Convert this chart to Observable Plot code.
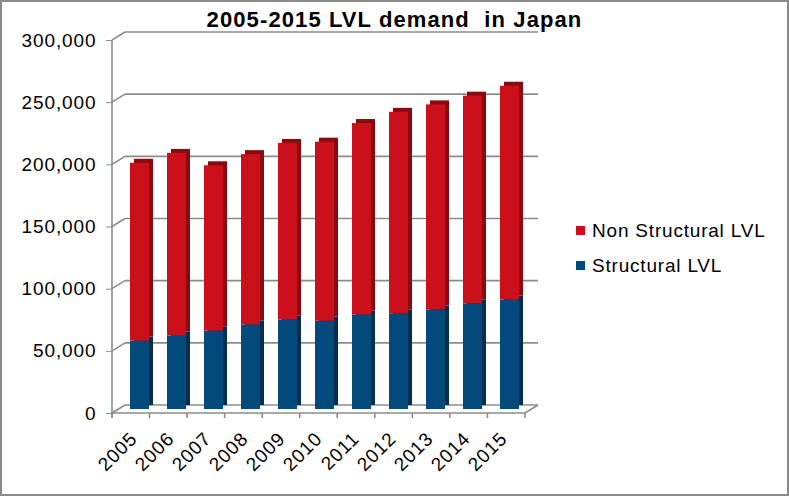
<!DOCTYPE html>
<html>
<head>
<meta charset="utf-8">
<script src="https://cdn.jsdelivr.net/npm/d3@7"></script>
<script src="https://cdn.jsdelivr.net/npm/@observablehq/plot@0.6"></script>
<style>
  html, body { margin: 0; padding: 0; background: #fff; }
  #frame { position: relative; width: 789px; height: 496px; box-sizing: border-box; border: 2px solid #8a8a8a; background: #fff; overflow: hidden; font-family: "Liberation Sans", Arial, sans-serif; }
  #title { position: absolute; left: 0; top: 6px; width: 785px; text-align: center; font-size: 22px; font-weight: bold; letter-spacing: 1.1px; color: #000; white-space: pre; z-index: 2; line-height: 24px; }
  #chart { position: absolute; left: 0; top: 0; }
  #chart svg text { letter-spacing: 0.9px; }
  #legend { position: absolute; left: 574px; top: 211px; font-size: 19px; letter-spacing: 0.8px; color: #000; z-index: 2; }
  .item { display: flex; align-items: center; height: 35px; white-space: nowrap; }
  .sw { width: 9px; height: 9px; margin-right: 7px; }
</style>
</head>
<body>
<div id="frame">
  <div id="title">2005-2015 LVL demand  in Japan</div>
  <div id="chart"></div>
  <div id="legend"></div>
</div>
<script>
// ---- data ----
const years = ["2005","2006","2007","2008","2009","2010","2011","2012","2013","2014","2015"];
const structural    = [55000, 59000, 63000, 68000, 72000, 71000, 76000, 77000, 80000, 85000, 88000];
const nonStructural = [143000, 147000, 133000, 137000, 142000, 144000, 154000, 162000, 165000, 167000, 172000];
const yTicks = [0, 50000, 100000, 150000, 200000, 250000, 300000];
const seriesNames = ["Non Structural LVL", "Structural LVL"];
const seriesColors = ["#cc101b", "#02497c"];
const seriesDark = ["#8a0a10", "#032e4f"];

// ---- layout ----
const W = 785, H = 492;
const mLeft = 110, mRight = W - 523, mTop = 38, mBottom = H - 411;
const DX = 13, DY = -8;       // back wall depth offset
const FX = 6, FY = -4;        // bar front-face depth offset
const S = 4;                  // bar thickness (side/top)
const grid = "#8c8c8c";

const rowsS = years.map((yr, i) => ({year: yr, lo: 0, hi: structural[i]}));
const rowsN = years.map((yr, i) => ({year: yr, lo: structural[i], hi: structural[i] + nonStructural[i]}));

function walls(index, scales, values, dims) {
  const x0 = dims.marginLeft, x1 = dims.width - dims.marginRight;
  const y = scales.y;
  const n = years.length, step = (x1 - x0) / n;
  const g = d3.create("svg:g").attr("fill", "none").attr("stroke", grid).attr("stroke-width", 1.6);
  for (const v of yTicks) {
    const yy = y(v);
    g.append("line").attr("x1", x0 + DX).attr("x2", x1 + DX).attr("y1", yy + DY).attr("y2", yy + DY);
    g.append("line").attr("x1", x0).attr("x2", x0 + DX).attr("y1", yy).attr("y2", yy + DY);
  }
  const y0 = y(0);
  g.append("line").attr("x1", x0).attr("x2", x0).attr("y1", y0 + 4).attr("y2", y(yTicks[yTicks.length - 1]));
  g.append("line").attr("x1", x0).attr("x2", x1).attr("y1", y0).attr("y2", y0);
  g.append("line").attr("x1", x1).attr("x2", x1 + DX).attr("y1", y0).attr("y2", y0 + DY);
  for (let i = 0; i <= n; i++) {
    const xx = x0 + i * step;
    g.append("line").attr("x1", xx).attr("x2", xx).attr("y1", y0).attr("y2", y0 + 5);
  }
  return g.node();
}

const barOpts = {x: "year", y1: "lo", y2: "hi"};
const chart = Plot.plot({
  width: W, height: H,
  marginLeft: mLeft, marginRight: mRight, marginTop: mTop, marginBottom: mBottom,
  style: {fontSize: "19px", fontFamily: "Liberation Sans, Arial, sans-serif", color: "#000", background: "transparent", overflow: "visible"},
  x: {type: "band", domain: years, paddingInner: 0.49, paddingOuter: 0.245, tickSize: 0, tickRotate: -45, tickPadding: 22, label: null},
  y: {domain: [0, 300000], ticks: yTicks, tickFormat: d3.format(","), tickSize: 6, tickPadding: 10, label: null},
  marks: [
    walls,
    Plot.barY(rowsS, {...barOpts, fill: seriesDark[1], dx: FX + S, dy: FY - S}),
    Plot.barY(rowsN, {...barOpts, fill: seriesDark[0], dx: FX + S, dy: FY - S}),
    Plot.barY(rowsS, {...barOpts, fill: seriesColors[1], dx: FX, dy: FY}),
    Plot.barY(rowsN, {...barOpts, fill: seriesColors[0], dx: FX, dy: FY})
  ]
});
chart.querySelectorAll("[aria-label='y-axis'] line, [aria-label='y-axis tick'] path").forEach(e => e.setAttribute("stroke", grid));
document.getElementById("chart").appendChild(chart);

const legend = document.getElementById("legend");
seriesNames.forEach((name, i) => {
  const item = document.createElement("div");
  item.className = "item";
  const sw = document.createElement("div");
  sw.className = "sw";
  sw.style.background = seriesColors[i];
  item.appendChild(sw);
  item.appendChild(document.createTextNode(name));
  legend.appendChild(item);
});
</script>
</body>
</html>
